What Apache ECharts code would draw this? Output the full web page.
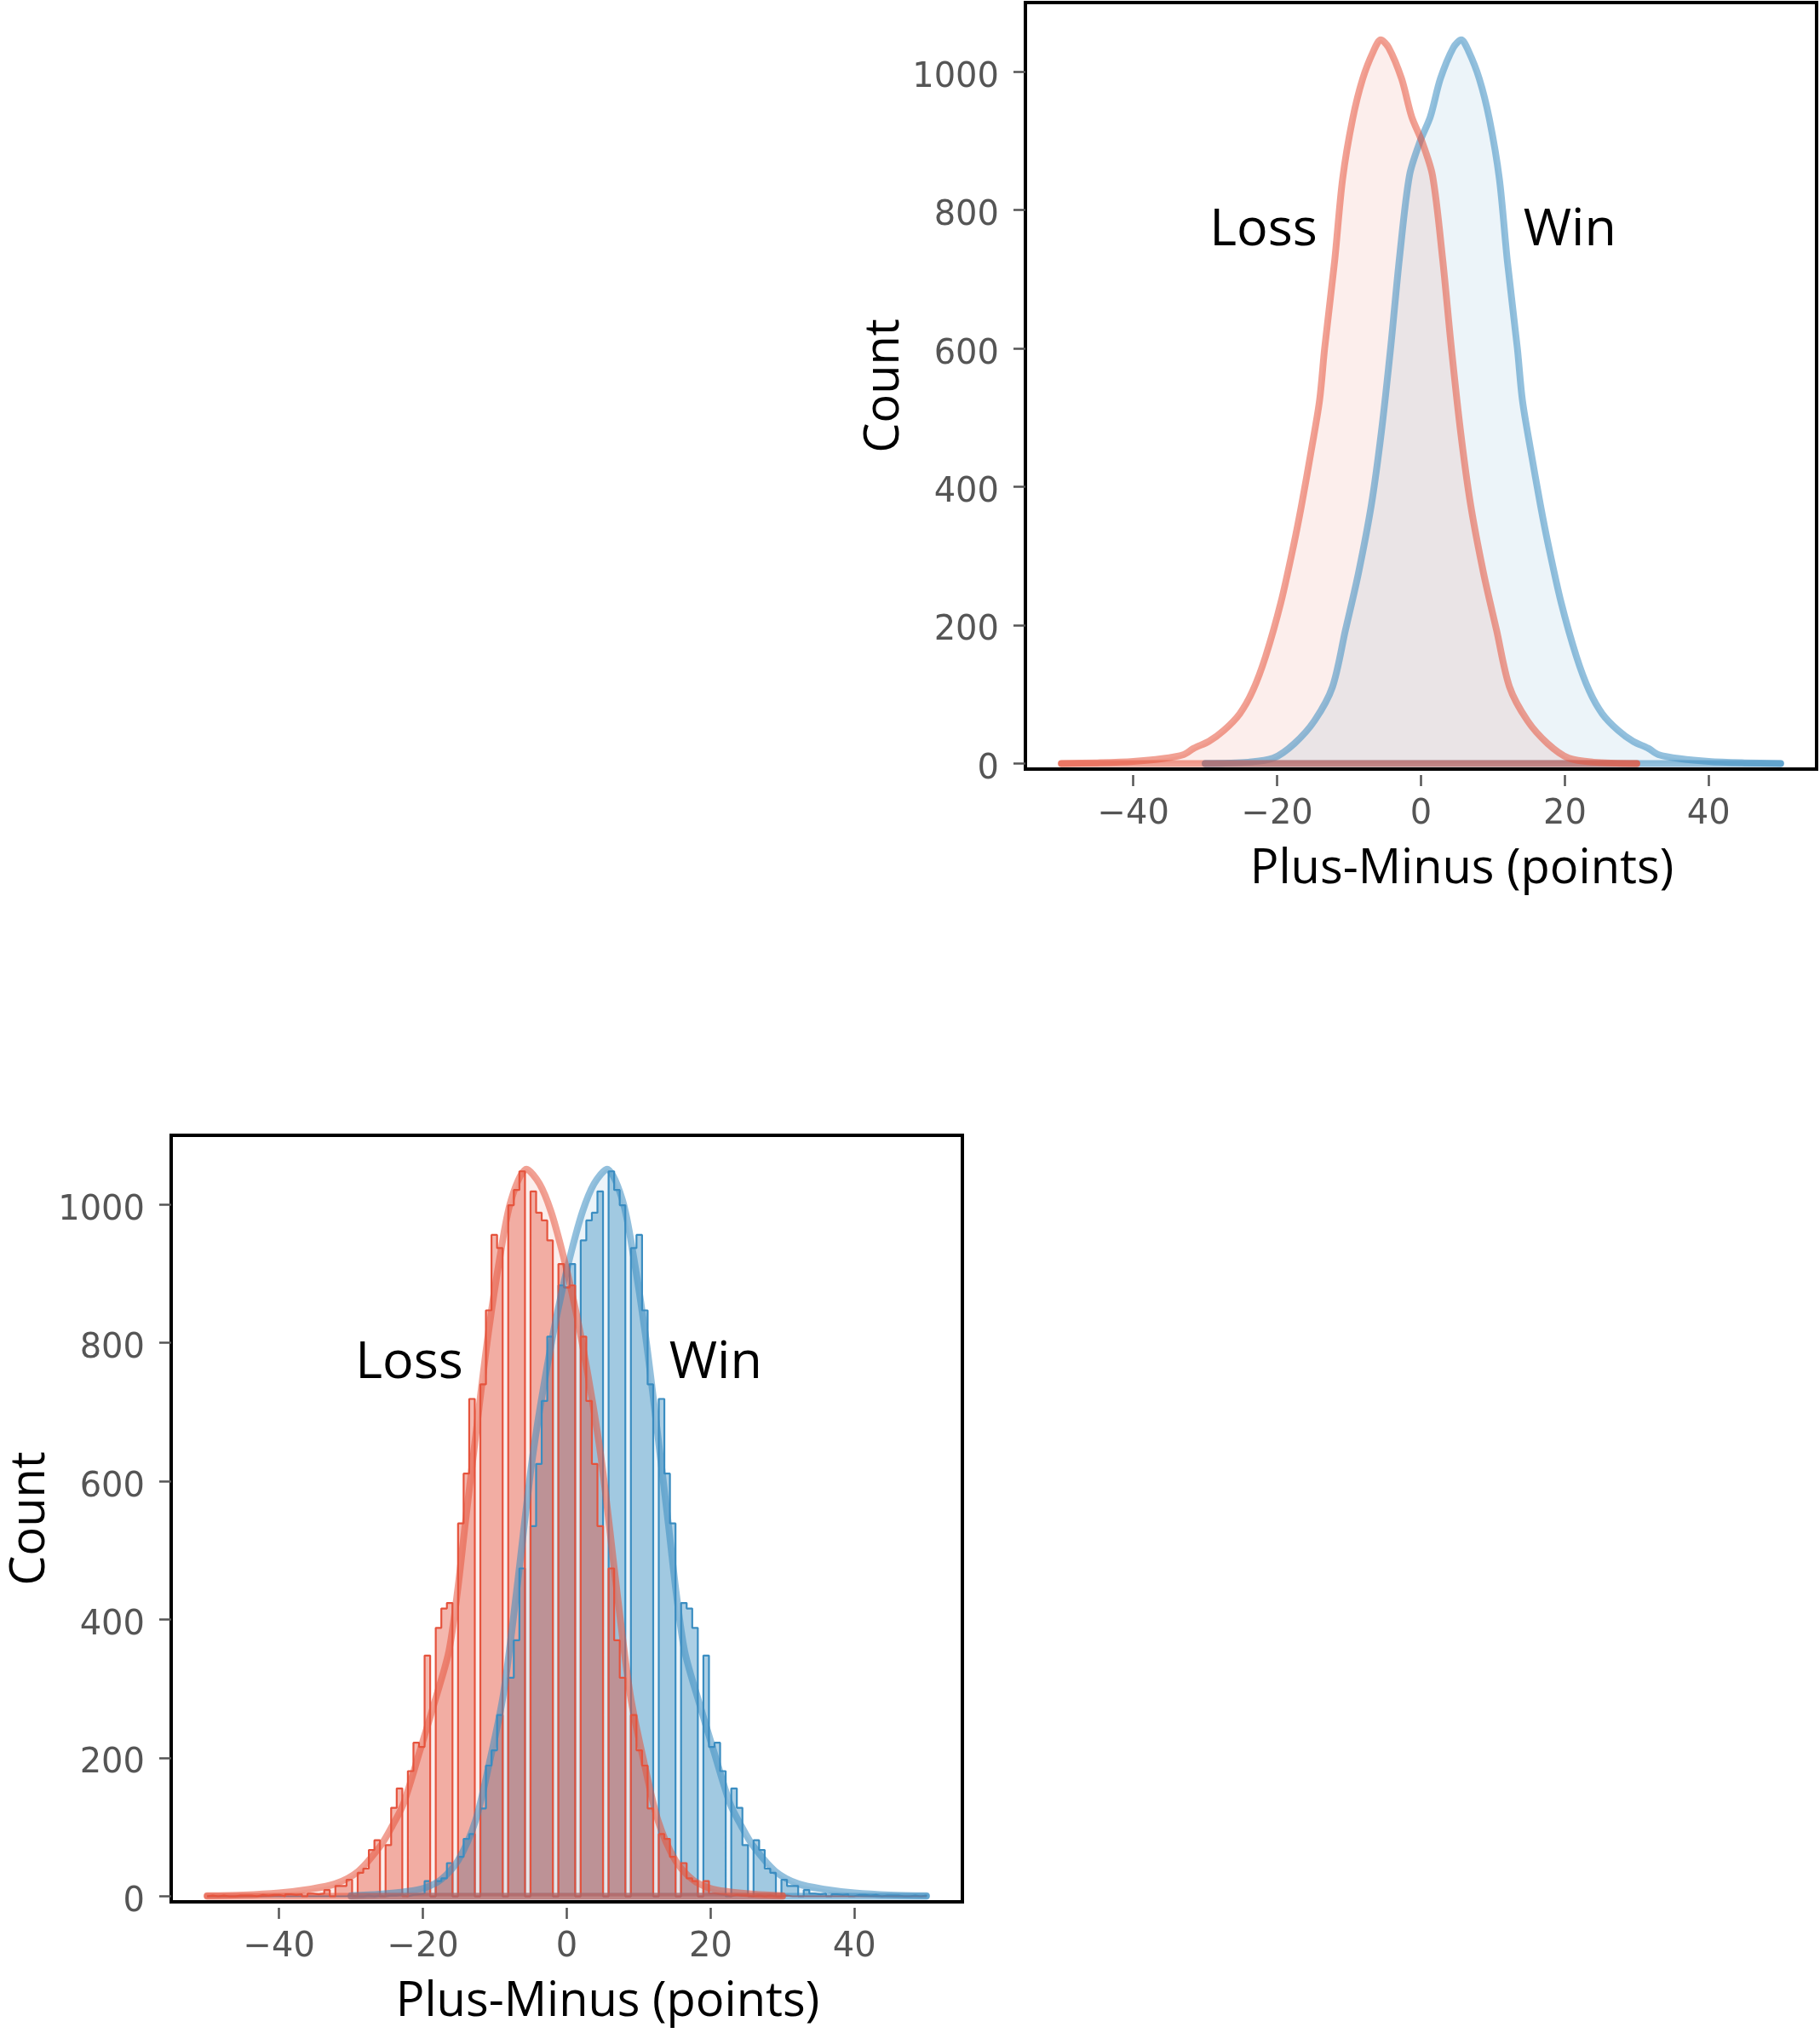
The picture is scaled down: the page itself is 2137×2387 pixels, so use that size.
<!DOCTYPE html>
<html>
<head>
<meta charset="utf-8">
<script src="https://cdn.jsdelivr.net/npm/echarts@6/dist/echarts.min.js"></script>
<style>
  html, body { margin: 0; padding: 0; background: #fff; }
  #chart { width: 2137px; height: 2387px; }
</style>
</head>
<body>
<div id="chart"></div>
<script>
// counts per integer plus-minus value (Loss from -50 to 30, Win from -30 to 50)
var groupNames = ['Loss', 'Win'];
var lossStart = -50;
var lossCounts = [1, 0, 1, 0, 1, 1, 1, 2, 1, 2,
  2, 3, 2, 3,
  4, 3, 4, 9, 15, 15, 24, 34, 40, 67,
  81, 74, 128, 156, 181, 222, 216, 348, 388, 416,
  424, 539, 611, 719, 740, 847, 956, 937, 999, 1021,
  1048, 1019, 988, 977, 948, 914, 880, 883, 809, 716,
  625, 535, 474, 370, 316, 262, 211, 189, 127, 90,
  83, 57, 48, 26, 22, 22, 4, 3, 2, 2,
  1, 1, 1, 0, 1, 0, 1];
var winStart = -30;
var winCounts = [1, 0, 1, 0, 1, 1, 1, 2, 2, 3,
  4, 22, 22, 26, 48, 57, 83, 90, 127, 189,
  211, 262, 316, 370, 474, 535, 625, 716, 809, 883,
  880, 914, 948, 977, 988, 1019, 1048, 1021, 999, 937,
  956, 847, 740, 719, 611, 539, 424, 416, 388, 348,
  216, 222, 181, 156, 128, 74, 81, 67, 40, 34,
  24, 15, 15, 9, 4, 3, 4, 3, 2, 3,
  2, 2, 1, 2, 1, 1, 1, 0, 1, 0, 1];

// histogram bins shared by both groups
var binMin = -50, binMax = 50, binCount = 129;

// kde curve, top panel
var lossKdeTopX = [-50, -45, -40, -36, -33, -31.6, -29.5, -27.4, -25.2, -23.4, -21.6, -19.5, -17.7, -16.6, -15.2, -14.1, -13.4, -12, -10.9, -9.5, -8.1, -6.6, -5.6, -4.5, -2.7, -1.3, 0.1, 1.6, 3.0, 4.2, 5.5, 6.9, 8.7, 10.5, 12.3, 14.8, 17.6, 20.5, 24, 30];
var lossKdeTopY = [0, 1, 3, 7, 13, 22, 32, 48, 72, 105, 155, 232, 316, 374, 456, 525, 600, 727, 845, 932, 990, 1030, 1046, 1035, 990, 935, 900, 850, 730, 603, 480, 374, 275, 193, 111, 62, 29, 8, 2, 0];
var winKdeTopX = [-30, -24, -20.5, -17.6, -14.8, -12.3, -10.5, -8.7, -6.9, -5.5, -4.2, -3.0, -1.6, -0.1, 1.3, 2.7, 4.5, 5.6, 6.6, 8.1, 9.5, 10.9, 12, 13.4, 14.1, 15.2, 16.6, 17.7, 19.5, 21.6, 23.4, 25.2, 27.4, 29.5, 31.6, 33, 36, 40, 45, 50];
var winKdeTopY = [0, 2, 8, 29, 62, 111, 193, 275, 374, 480, 603, 730, 850, 900, 935, 990, 1035, 1046, 1030, 990, 932, 845, 727, 600, 525, 456, 374, 316, 232, 155, 105, 72, 48, 32, 22, 13, 7, 3, 1, 0];

// kde curve, bottom panel
var lossKdeX = [-50, -45, -40, -36, -32.2, -29, -25.9, -24.3, -22.7, -20.4, -18.4, -16.4, -15.2, -14.1, -12.5, -10.9, -9.3, -7.75, -5.6, -3.8, -2.2, -0.66, 0.72, 2.1, 3.67, 4.86, 6.04, 6.8, 8.8, 10.8, 12.7, 15.1, 17.5, 19.8, 22.2, 26, 30];
var lossKdeY = [1, 2, 5, 10, 18, 36, 73, 101, 134, 211, 280, 354, 440, 540, 680, 814, 924, 1006, 1051, 1030, 990, 933, 872, 802, 709, 627, 525, 456, 293, 191, 109, 52, 24, 12, 7, 3, 1];
var winKdeX = [-30, -26, -22.2, -19.8, -17.5, -15.1, -12.7, -10.8, -8.8, -6.8, -6.04, -4.86, -3.67, -2.1, -0.72, 0.66, 2.2, 3.8, 5.6, 7.75, 9.3, 10.9, 12.5, 14.1, 15.2, 16.4, 18.4, 20.4, 22.7, 24.3, 25.9, 29, 32.2, 36, 40, 45, 50];
var winKdeY = [1, 3, 7, 12, 24, 52, 109, 191, 293, 456, 525, 627, 709, 802, 872, 933, 990, 1030, 1051, 1006, 924, 814, 680, 540, 440, 354, 280, 211, 134, 101, 73, 36, 18, 10, 5, 2, 1];

var xTicks = [-40, -20, 0, 20, 40];
var yTicks = [0, 200, 400, 600, 800, 1000];

var RED = '229,83,61';
var BLUE = '58,141,193';

function zip(xs, ys) {
  return xs.map(function (x, i) { return [x, ys[i]]; });
}

// bin the per-value counts and turn them into step points
function histSteps(start, counts) {
  var bins = [];
  for (var i = 0; i < binCount; i++) bins.push(0);
  counts.forEach(function (c, j) {
    var k = start + j;
    var idx = Math.floor((k - binMin) * binCount / (binMax - binMin));
    if (idx > binCount - 1) idx = binCount - 1;
    bins[idx] += c;
  });
  var w = (binMax - binMin) / binCount;
  var pts = [[binMin, 0]];
  for (var b = 0; b < binCount; b++) pts.push([binMin + b * w, bins[b]]);
  pts.push([binMax, 0]);
  return pts;
}

function minusFmt(v) {
  return v < 0 ? '\u2212' + Math.abs(v) : String(v);
}

function xAxisFor(gi) {
  return {
    type: 'value', gridIndex: gi, min: -55, max: 55, offset: 7,
    axisLine: { show: false, onZero: false },
    splitLine: { show: false },
    axisTick: { show: true, length: 13, customValues: xTicks, lineStyle: { color: '#555', width: 2.5 } },
    axisLabel: { customValues: xTicks, margin: 27, color: '#555', fontFamily: 'DejaVu Sans', fontSize: 40, formatter: minusFmt },
    name: 'Plus-Minus (points)', nameLocation: 'middle', nameGap: 83,
    nameTextStyle: { fontFamily: 'Open Sans', fontSize: 56, color: '#000', padding: [0, 0, 0, 96] }
  };
}

function yAxisFor(gi) {
  return {
    type: 'value', gridIndex: gi, min: -8, max: 1100,
    axisLine: { show: false, onZero: false },
    splitLine: { show: false },
    axisTick: { show: true, length: 14, customValues: yTicks, lineStyle: { color: '#555', width: 2.5 } },
    axisLabel: {
      customValues: yTicks, margin: 31, color: '#555', fontFamily: 'DejaVu Sans', fontSize: 40,
      verticalAlign: 'top', lineHeight: 14, formatter: function (v) { return String(v); }
    },
    name: 'Count', nameLocation: 'middle', nameGap: 136, nameRotate: 90,
    nameTextStyle: { fontFamily: 'Open Sans', fontSize: 56, color: '#000' }
  };
}

function kdeSeries(gi, pts, rgb, withLine, withArea) {
  return {
    type: 'line', xAxisIndex: gi, yAxisIndex: gi, data: pts,
    smooth: 0.3, symbol: 'none', silent: true,
    lineStyle: withLine ? { color: 'rgba(' + rgb + ',0.55)', width: 8, cap: 'round', join: 'round' } : { width: 0, opacity: 0 },
    areaStyle: withArea ? { color: 'rgba(' + rgb + ',0.14)' } : null
  };
}

// closing edge of the kde fill along zero
function baseSeries(gi, xs, rgb) {
  return {
    type: 'line', xAxisIndex: gi, yAxisIndex: gi, symbol: 'none', silent: true,
    data: [[xs[0], 0], [xs[xs.length - 1], 0]],
    lineStyle: { color: 'rgba(' + rgb + ',0.55)', width: 8, cap: 'round' }
  };
}

function histSeries(gi, pts, rgb) {
  return {
    type: 'line', xAxisIndex: gi, yAxisIndex: gi, data: pts,
    step: 'end', symbol: 'none', silent: true,
    lineStyle: { color: 'rgb(' + rgb + ')', width: 2.2 },
    areaStyle: { color: 'rgba(' + rgb + ',0.6)' }
  };
}

function labelSeries(gi) {
  return {
    type: 'scatter', xAxisIndex: gi, yAxisIndex: gi, symbolSize: 0, silent: true,
    itemStyle: { opacity: 1 },
    data: [[-21.9, 770, groupNames[0]], [20.7, 770, groupNames[1]]],
    label: {
      show: true, position: 'inside', formatter: function (p) { return p.data[2]; },
      fontFamily: 'Open Sans', fontSize: 61, color: '#000', opacity: 1, textBorderWidth: 0
    }
  };
}

var chart = echarts.init(document.getElementById('chart'), null, { renderer: 'canvas' });

var gridStyle = { show: true, borderColor: '#000', borderWidth: 4, backgroundColor: 'transparent' };

var option = {
  animation: false,
  backgroundColor: '#fff',
  grid: [
    Object.assign({ left: 1204, top: 3, width: 929, height: 900 }, gridStyle),
    Object.assign({ left: 201, top: 1333, width: 929, height: 900 }, gridStyle)
  ],
  xAxis: [xAxisFor(0), xAxisFor(1)],
  yAxis: [yAxisFor(0), yAxisFor(1)],
  series: [
    // top panel: kde only
    kdeSeries(0, zip(winKdeTopX, winKdeTopY), BLUE, true, true),
    baseSeries(0, winKdeTopX, BLUE),
    kdeSeries(0, zip(lossKdeTopX, lossKdeTopY), RED, true, true),
    baseSeries(0, lossKdeTopX, RED),
    labelSeries(0),
    // bottom panel: kde fill, histogram, kde line
    kdeSeries(1, zip(winKdeX, winKdeY), BLUE, false, true),
    kdeSeries(1, zip(lossKdeX, lossKdeY), RED, false, true),
    histSeries(1, histSteps(winStart, winCounts), BLUE),
    histSeries(1, histSteps(lossStart, lossCounts), RED),
    kdeSeries(1, zip(winKdeX, winKdeY), BLUE, true, false),
    baseSeries(1, winKdeX, BLUE),
    kdeSeries(1, zip(lossKdeX, lossKdeY), RED, true, false),
    baseSeries(1, lossKdeX, RED),
    labelSeries(1)
  ]
};

chart.setOption(option);
</script>
</body>
</html>
